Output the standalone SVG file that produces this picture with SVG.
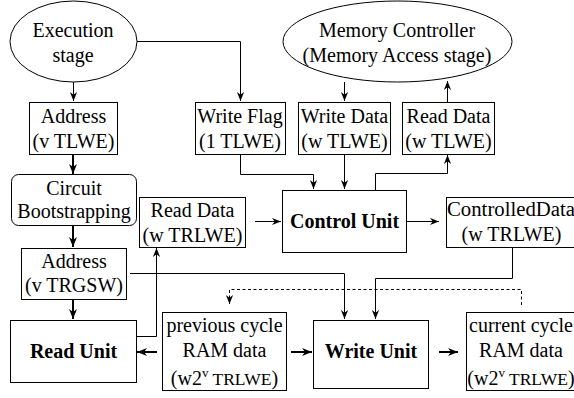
<svg xmlns="http://www.w3.org/2000/svg" width="574" height="398" viewBox="0 0 574 398" font-family="'Liberation Serif', serif">
<style>
.shape{fill:#fff;stroke:#000;stroke-width:1}
text{font-family:'Liberation Serif',serif;font-size:20px;fill:#000;text-anchor:middle}
.b{font-weight:bold}
.sm{font-size:17.5px}
.sup{font-size:13px}
.c{fill:none;stroke:#000;stroke-width:1}
.t{stroke-width:2}
.d{stroke-dasharray:3 2.5}
</style>
<defs>
<marker id="ah" viewBox="0 0 10 10" refX="10" refY="5" markerWidth="9" markerHeight="9" markerUnits="userSpaceOnUse" orient="auto">
<path d="M0,1 L10,5 L0,9 L3,5 z" fill="#000"/>
</marker>
<marker id="ahb" viewBox="0 0 10 10" refX="10" refY="5" markerWidth="10" markerHeight="10" markerUnits="userSpaceOnUse" orient="auto">
<path d="M0,1 L10,5 L0,9 L3,5 z" fill="#000"/>
</marker>
</defs>
<g id="connectors">
<path class="c" d="M73.5,82 V101" marker-end="url(#ah)"/>
<path class="c" d="M137,41.5 H240.5 V101" marker-end="url(#ah)"/>
<path class="c" d="M344.5,82 V101" marker-end="url(#ah)"/>
<path class="c" d="M447.5,102 V81" marker-end="url(#ah)"/>
<path class="c t" d="M73,154 V174" marker-end="url(#ahb)"/>
<path class="c" d="M240.5,154 V174.5 H313.5 V189" marker-end="url(#ah)"/>
<path class="c" d="M344.5,154 V189" marker-end="url(#ah)"/>
<path class="c" d="M375.5,190 V173.5 H447.5 V155" marker-end="url(#ah)"/>
<path class="c t" d="M73,226 V247" marker-end="url(#ahb)"/>
<path class="c" d="M255,221.5 H281" marker-end="url(#ah)"/>
<path class="c" d="M407,221.5 H439" marker-end="url(#ah)"/>
<path class="c t" d="M73,299 V319" marker-end="url(#ahb)"/>
<path class="c" d="M130,273.5 H344.5 V319" marker-end="url(#ah)"/>
<path class="c" d="M512.5,247 V278.5 H375.5 V319" marker-end="url(#ah)"/>
<path class="c" d="M136,336.5 H156.5 V248" marker-end="url(#ah)"/>
<path class="c d" d="M521.5,305 V289.5 H229.5 V304" marker-end="url(#ah)"/>
<path class="c t" d="M157,352 H137" marker-end="url(#ahb)"/>
<path class="c t" d="M291,352 H312" marker-end="url(#ahb)"/>
<path class="c t" d="M439,352 H458" marker-end="url(#ahb)"/>
</g>
<g id="execution-stage">
<ellipse class="shape" cx="73.5" cy="41.5" rx="63.5" ry="40.5"/>
<text x="73" y="37">Execution</text>
<text x="73" y="62">stage</text>
</g>
<g id="memory-controller">
<ellipse class="shape" cx="397.5" cy="41.5" rx="114.5" ry="40.5"/>
<text x="397" y="37">Memory Controller</text>
<text x="397" y="62">(Memory Access stage)</text>
</g>
<g id="address-tlwe">
<rect class="shape" x="29.5" y="102.5" width="88" height="52"/>
<text x="73.5" y="123">Address</text>
<text x="73.5" y="148">(v TLWE)</text>
</g>
<g id="write-flag">
<rect class="shape" x="195.5" y="102.5" width="90" height="52"/>
<text x="240" y="123">Write Flag</text>
<text x="240" y="148">(1 TLWE)</text>
</g>
<g id="write-data">
<rect class="shape" x="298.5" y="102.5" width="92" height="52"/>
<text x="344.5" y="123">Write Data</text>
<text x="344.5" y="148">(w TLWE)</text>
</g>
<g id="read-data-tlwe">
<rect class="shape" x="402.5" y="102.5" width="92" height="52"/>
<text x="448.5" y="123">Read Data</text>
<text x="448.5" y="148">(w TLWE)</text>
</g>
<g id="circuit-bootstrapping">
<rect class="shape" x="11.5" y="174.5" width="125" height="51" rx="7"/>
<text x="74" y="195">Circuit</text>
<text x="74" y="218">Bootstrapping</text>
</g>
<g id="read-data-trlwe">
<rect class="shape" x="139.5" y="197.5" width="106" height="50"/>
<text x="192.5" y="217">Read Data</text>
<text x="192.5" y="242">(w TRLWE)</text>
</g>
<g id="control-unit">
<rect class="shape" x="282.5" y="190.5" width="124" height="62"/>
<text class="b" x="344.5" y="228">Control Unit</text>
</g>
<g id="controlled-data">
<rect class="shape" x="446.5" y="197.5" width="132" height="50"/>
<text x="447" y="216" style="text-anchor:start" textLength="128" lengthAdjust="spacingAndGlyphs">ControlledData</text>
<text x="511.5" y="241">(w TRLWE)</text>
</g>
<g id="address-trgsw">
<rect class="shape" x="21.5" y="248.5" width="105" height="51"/>
<text x="74" y="268">Address</text>
<text x="74" y="292">(v TRGSW)</text>
</g>
<g id="read-unit">
<rect class="shape" x="10.5" y="320.5" width="126" height="62"/>
<text class="b" x="73.5" y="358">Read Unit</text>
</g>
<g id="previous-cycle">
<rect class="shape" x="162.5" y="312.5" width="124" height="78"/>
<text x="224.5" y="332">previous cycle</text>
<text x="224.5" y="357">RAM data</text>
<text x="224.5" y="385">(w2<tspan class="sup" dy="-8">v</tspan><tspan class="sm" dy="8"> TRLWE</tspan>)</text>
</g>
<g id="write-unit">
<rect class="shape" x="313.5" y="320.5" width="115" height="68"/>
<text class="b" x="371" y="358">Write Unit</text>
</g>
<g id="current-cycle">
<rect class="shape" x="466.5" y="312.5" width="110" height="78"/>
<text x="521" y="332">current cycle</text>
<text x="521" y="357">RAM data</text>
<text x="521" y="385">(w2<tspan class="sup" dy="-8">v</tspan><tspan class="sm" dy="8"> TRLWE</tspan>)</text>
</g>
</svg>
